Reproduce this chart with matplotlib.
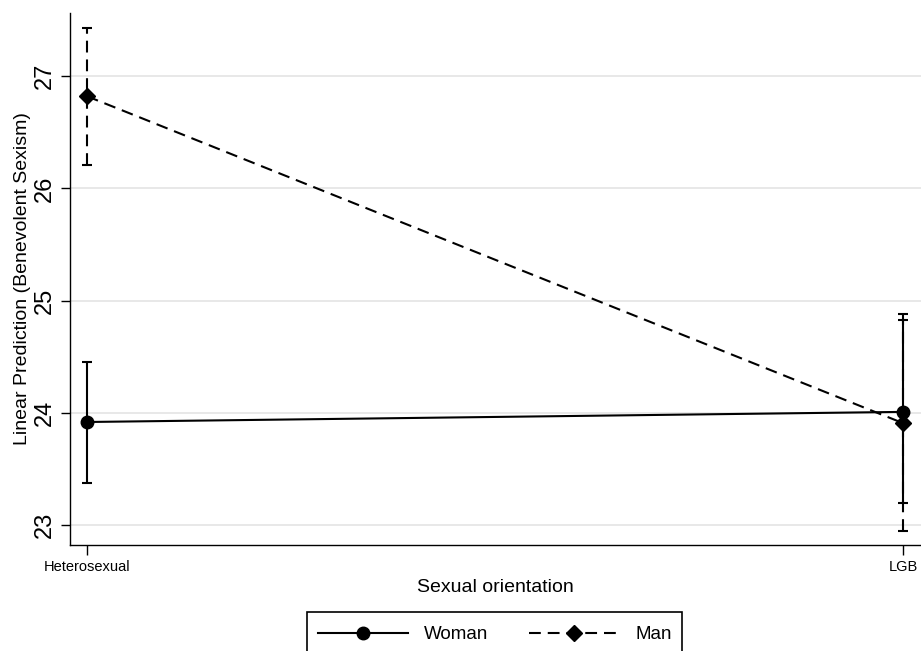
import matplotlib
matplotlib.use("Agg")
import matplotlib.pyplot as plt
from matplotlib.patches import Rectangle

# Margins (linear predictions with 95% CIs) of benevolent sexism
categories = ["Heterosexual", "LGB"]
woman_mean = [23.92, 24.01]
woman_low = [23.38, 23.20]
woman_high = [24.45, 24.83]
man_mean = [26.82, 23.91]
man_low = [26.21, 22.95]
man_high = [27.43, 24.88]
yticks = [23, 24, 25, 26, 27]

plt.rcParams["font.family"] = ["Liberation Sans", "DejaVu Sans"]
plt.rcParams["lines.scale_dashes"] = False

W, H = 921, 651
fig = plt.figure(figsize=(W / 100, H / 100), dpi=100)
ax = fig.add_axes([70 / W, 1 - 545 / H, 851 / W, 532 / H])

x = list(range(len(categories)))
dash = (0, (8.5, 5))
lw = 1.5

# confidence intervals
eb_w = ax.errorbar(x, woman_mean,
                   yerr=[[m - l for m, l in zip(woman_mean, woman_low)],
                         [h - m for m, h in zip(woman_mean, woman_high)]],
                   fmt="none", ecolor="black", elinewidth=lw, capsize=3.6,
                   capthick=lw, zorder=3)
eb_m = ax.errorbar(x, man_mean,
                   yerr=[[m - l for m, l in zip(man_mean, man_low)],
                         [h - m for m, h in zip(man_mean, man_high)]],
                   fmt="none", ecolor="black", elinewidth=lw, capsize=3.6,
                   capthick=lw, zorder=3)
eb_m[2][0].set_linestyle(dash)

# point estimates
lw_line, = ax.plot(x, woman_mean, color="black", lw=lw, marker="o", ms=9,
                   label="Woman", zorder=4)
lm_line, = ax.plot(x, man_mean, color="black", lw=lw, linestyle=dash,
                   marker="D", ms=8.5, label="Man", zorder=4)

ax.set_xlim(-0.0208, 1.0221)
ax.set_ylim(22.825, 27.561)

ax.set_yticks(yticks)
ax.set_yticklabels([str(v) for v in yticks], rotation=90, va="center")
ax.set_xticks(x)
ax.set_xticklabels(categories)

ax.tick_params(axis="y", labelsize=17, length=6.5, width=1, pad=4,
               color="black")
ax.tick_params(axis="x", labelsize=10.5, length=7.5, width=1, pad=3.5,
               color="black")

ax.yaxis.grid(True, color="#e6e6e6", lw=1.3)
ax.set_axisbelow(True)

for side in ("top", "right"):
    ax.spines[side].set_visible(False)
for side in ("left", "bottom"):
    ax.spines[side].set_color("black")
    ax.spines[side].set_linewidth(1.0)

ax.set_ylabel("Linear Prediction (Benevolent Sexism)", fontsize=14)
ax.yaxis.set_label_coords(-0.046, 0.5)
ax.set_xlabel("Sexual orientation", fontsize=14)
ax.xaxis.set_label_coords(0.5, -0.064)

# legend entries, with the box drawn as its own frame that runs off the bottom
leg = fig.legend([lw_line, lm_line], ["Woman", "Man"], loc="upper center",
                 bbox_to_anchor=(0.537, 1 - 616 / H), ncol=2, fontsize=13.5,
                 frameon=False, handlelength=4.8, handletextpad=0.85,
                 columnspacing=2.2, borderpad=0.55, borderaxespad=0,
                 numpoints=1)
fig.patches.append(Rectangle((307 / W, 1 - 662 / H), 375 / W, 50 / H,
                             transform=fig.transFigure, fill=False,
                             edgecolor="black", linewidth=1.2))

fig.savefig("out.png", dpi=100)
